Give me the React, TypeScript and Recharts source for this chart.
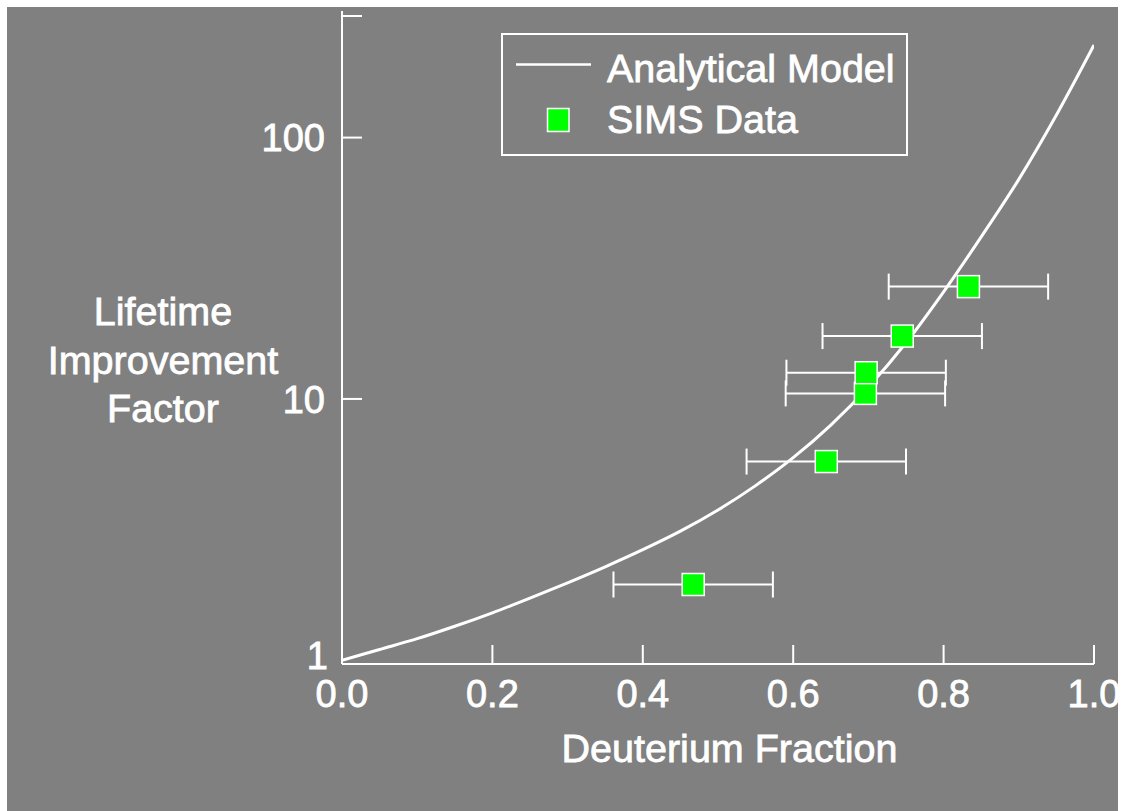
import React from "react";
import {
  ComposedChart,
  Line,
  Scatter,
  XAxis,
  YAxis,
  ErrorBar,
  Legend,
} from "recharts";

// Analytical model: lifetime improvement vs deuterium fraction
const modelFraction = [
  0, 0.05, 0.1, 0.15, 0.2, 0.25, 0.3, 0.35, 0.4, 0.45, 0.5, 0.55, 0.6, 0.65,
  0.7, 0.75, 0.8, 0.85, 0.9, 0.95, 1.0,
];
const modelFactor = [
  1.0, 1.1, 1.21, 1.35, 1.52, 1.73, 1.98, 2.28, 2.65, 3.12, 3.76, 4.66, 5.96,
  7.94, 11.1, 16.4, 25.7, 41.7, 69.2, 122, 226,
];

// SIMS measurements (x error = uncertainty in deuterium fraction)
const simsFraction = [0.467, 0.644, 0.696, 0.697, 0.745, 0.833];
const simsFactor = [1.95, 5.76, 10.5, 12.6, 17.4, 26.9];
const simsFractionErr = [0.106, 0.106, 0.106, 0.106, 0.106, 0.106];

const xTicks = [0, 0.2, 0.4, 0.6, 0.8, 1.0];
const yTicks = [1, 10, 100, 305];
const yLabels = [1, 10, 100];

const modelData = modelFraction.map((x, i) => ({ x, y: modelFactor[i] }));
const simsData = simsFraction.map((x, i) => ({
  x,
  y: simsFactor[i],
  err: simsFractionErr[i],
}));

const FONT = '"Liberation Sans", Arial, sans-serif';
const BG = "#808080";
const W = 1111;
const H = 804;

// white text, slightly thickened
const textStyle = {
  fill: "#fff",
  stroke: "#fff",
  strokeWidth: 0.8,
  fontFamily: FONT,
} as const;

function XTick({ x, y, payload }: any) {
  const v = payload.value as number;
  return (
    <g>
      {v > 0 && (
        <line x1={x} y1={y} x2={x} y2={y - 19} stroke="#fff" strokeWidth={2} />
      )}
      <text x={x} y={y + 43} textAnchor="middle" fontSize={38} {...textStyle}>
        {v.toFixed(1)}
      </text>
    </g>
  );
}

function YTick({ x, y, payload }: any) {
  const v = payload.value as number;
  const show = yLabels.includes(v);
  return (
    <g>
      {v > 1 && (
        <line x1={x} y1={y} x2={x + 20} y2={y} stroke="#fff" strokeWidth={2} />
      )}
      {show && (
        <text
          x={v === 1 ? x - 14 : x - 17}
          y={v === 1 ? y - 5 : y}
          dy="0.36em"
          textAnchor="end"
          fontSize={38}
          {...textStyle}
        >
          {v}
        </text>
      )}
    </g>
  );
}

function XTitle() {
  return (
    <text x={722.5} y={755} textAnchor="middle" fontSize={39.5} {...textStyle}>
      Deuterium Fraction
    </text>
  );
}

function YTitle() {
  return (
    <text textAnchor="middle" fontSize={39.5} {...textStyle}>
      <tspan x={156} y={318}>
        Lifetime
      </tspan>
      <tspan x={156} y={366.5}>
        Improvement
      </tspan>
      <tspan x={156} y={414.7}>
        Factor
      </tspan>
    </text>
  );
}

function LegendBox() {
  return (
    <svg width={407} height={123} style={{ display: "block" }}>
      <rect
        x={1}
        y={1}
        width={405}
        height={121}
        fill="none"
        stroke="#fff"
        strokeWidth={2}
      />
      <line x1={15} y1={31.6} x2={90} y2={31.6} stroke="#fff" strokeWidth={2.5} />
      <text x={106} y={48.5} fontSize={39.5} {...textStyle}>
        Analytical Model
      </text>
      <rect
        x={46.5}
        y={75.5}
        width={21.5}
        height={23}
        fill="#00ff00"
        stroke="#fff"
        strokeWidth={1.5}
      />
      <text x={106} y={100} fontSize={39.5} {...textStyle}>
        SIMS Data
      </text>
    </svg>
  );
}

function SquareDot({ cx, cy }: any) {
  return (
    <rect
      x={cx - 11}
      y={cy - 11}
      width={22}
      height={22}
      fill="#00ff00"
      stroke="#fff"
      strokeWidth={1.5}
    />
  );
}

export default function App() {
  return (
    <div style={{ position: "absolute", left: 7, top: 7, width: W + 10, height: H }}>
      <div
        style={{
          position: "absolute",
          left: 0,
          top: 0,
          width: W,
          height: H,
          background: BG,
        }}
      />
      <ComposedChart
        width={W + 10}
        height={H}
        margin={{ top: 4, right: 34, left: 0, bottom: 0 }}
      >
        <XAxis
          type="number"
          dataKey="x"
          domain={[0, 1]}
          allowDataOverflow
          ticks={xTicks}
          height={147}
          tickSize={0}
          tickMargin={0}
          tickLine={false}
          axisLine={{ stroke: "#fff", strokeWidth: 2 }}
          tick={(p: any) => <XTick {...p} />}
          label={() => <XTitle />}
        />
        <YAxis
          type="number"
          dataKey="y"
          scale="log"
          domain={[0.968, 305]}
          allowDataOverflow
          ticks={yTicks}
          width={335}
          tickSize={0}
          tickMargin={0}
          tickLine={false}
          axisLine={{ stroke: "#fff", strokeWidth: 2 }}
          tick={(p: any) => <YTick {...p} />}
          label={() => <YTitle />}
        />
        <Legend
          layout="vertical"
          align="center"
          verticalAlign="middle"
          wrapperStyle={{ left: 493.7, top: 25.7, width: 407, height: 123 }}
          content={() => <LegendBox />}
        />
        <Line
          data={modelData}
          dataKey="y"
          type="monotone"
          stroke="#fff"
          strokeWidth={3}
          dot={false}
          isAnimationActive={false}
          name="Analytical Model"
        />
        <Scatter
          data={simsData}
          dataKey="y"
          shape={(p: any) => <SquareDot {...p} />}
          isAnimationActive={false}
          name="SIMS Data"
        >
          <ErrorBar
            dataKey="err"
            direction="x"
            width={13}
            stroke="#fff"
            strokeWidth={2}
            isAnimationActive={false}
          />
        </Scatter>
      </ComposedChart>
    </div>
  );
}
